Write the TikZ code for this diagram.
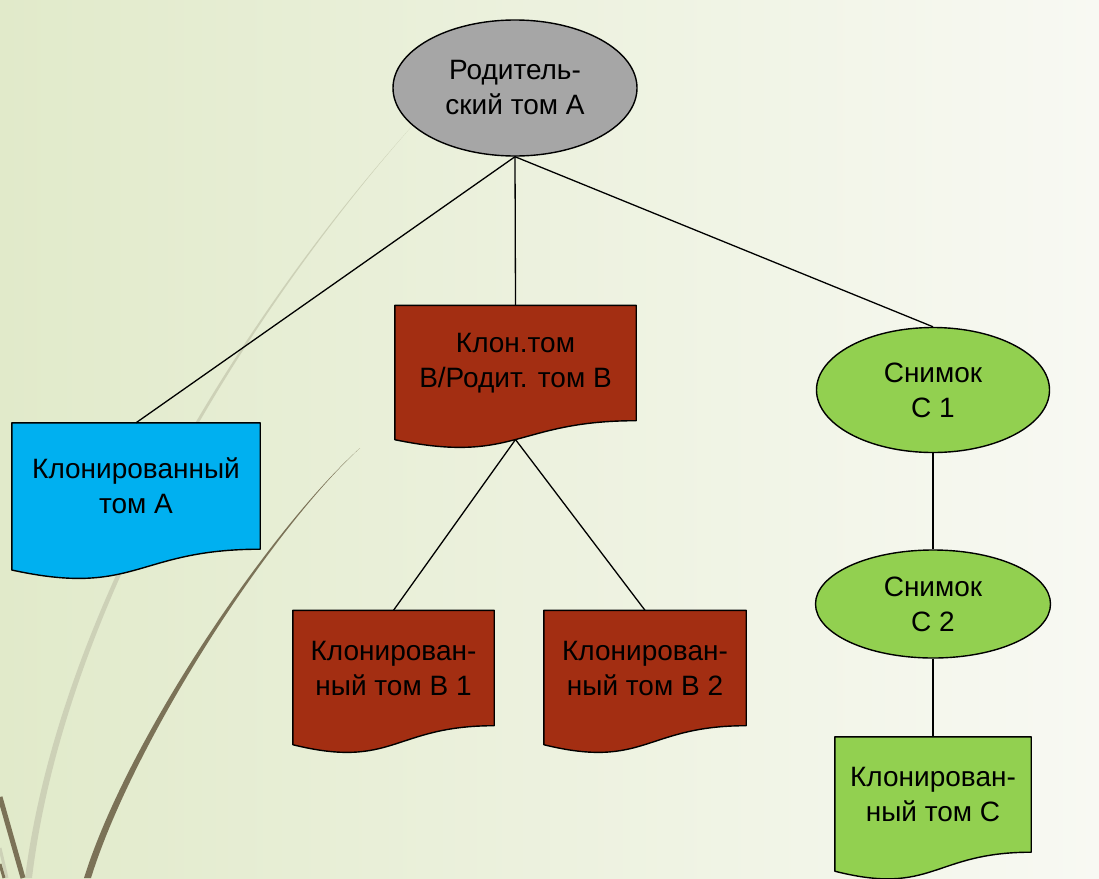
\documentclass[tikz,border=0pt]{standalone}
\usepackage{fontspec}
\setmainfont{Liberation Sans}
\usetikzlibrary{positioning,shapes.geometric,backgrounds,calc}

\definecolor{volgray}{HTML}{A6A6A6}
\definecolor{clonecyan}{HTML}{00B0F0}
\definecolor{clonerust}{HTML}{A32E12}
\definecolor{snapgreen}{HTML}{92D050}
\definecolor{bgleft}{HTML}{E1EACA}
\definecolor{bgmid}{HTML}{ECF0DF}
\definecolor{bgright}{HTML}{F8F9F3}
\definecolor{wisplight}{HTML}{CDD1B7}
\definecolor{wispdark}{HTML}{7B7257}

\tikzset{
  vol/.style={ellipse,draw,line width=1.4pt,inner sep=0pt,align=center},
  doc/.style={rectangle,inner sep=0pt,align=center},
  docline/.style={draw=black,line width=1.4pt,line join=round}
}

% document shape with a wavy bottom, drawn from the anchors of a node
\newcommand\docshape[2]{%
  \filldraw[fill=#2,docline]
    let \p1=(#1.north), \p2=(#1.south), \n1={\y1-\y2} in
    (#1.north west) -- (#1.north east) -- (#1.south east)
    .. controls (#1.south) and ($(#1.south)+(0,-0.381*\n1)$)
    .. ($(#1.south west)+(0,-0.1646*\n1)$) -- cycle;
  \path let \p1=(#1.north), \p2=(#1.south), \n1={\y1-\y2} in
    ($(#1.south)+(0,-0.1634*\n1)$) coordinate (#1-tip);
}

\begin{document}
\begin{tikzpicture}[x=1pt,y=-1pt,on grid,
  every node/.style={font=\fontsize{28}{35}\selectfont}]
\useasboundingbox (0,0) rectangle (1099,878);

\node[vol,fill=volgray,minimum width=244pt,minimum height=136pt] (P) at (515,88) {Родитель-\\ский том А};
\node[doc,minimum width=248pt,minimum height=126pt] (A) at (136,486) {Клонированный\\том А};
\node[doc,minimum width=241pt,minimum height=115pt] (CB) at (515.5,363) {Клон.том\\В/Родит. том В};
\node[doc,minimum width=201pt,minimum height=115pt] (B1) at (393.5,668) {Клонирован-\\ный том В 1};
\node[doc,minimum width=202pt,minimum height=115pt] (B2) [right=251.5pt of B1] {Клонирован-\\ный том В 2};
\node[vol,fill=snapgreen,minimum width=233pt,minimum height=125pt] (C1) at (933,390) {Снимок\\С 1};
\node[vol,fill=snapgreen,minimum width=235pt,minimum height=108pt] (C2) [below=214pt of C1] {Снимок\\С 2};
\node[doc,minimum width=196pt,minimum height=115pt] (CC) [below=190.5pt of C2] {Клонирован-\\ный том С};

\begin{scope}[on background layer]
% slide background
\shade[left color=bgleft,middle color=bgmid,right color=bgright] (0,0) rectangle (1099,878);
\fill[wisplight] (413,125) .. controls (229,330) and (58,620) .. (25,878)
  -- (32,878) .. controls (63,620) and (232,330) .. (413,125);
\fill[wispdark] (360,448) .. controls (269,530) and (127,740) .. (84,878)
  -- (91,878) .. controls (134,740) and (271,530) .. (360,448);
\draw[wispdark,line width=5pt] (0,797) -- (23,878);
\draw[wisplight,line width=3pt] (0,848) -- (7,878);
\draw[wispdark,line width=3pt] (0,864) -- (4,878);
% volumes
\foreach \vname/\vcol in {A/clonecyan,CB/clonerust,B1/clonerust,B2/clonerust,CC/snapgreen}
  \docshape{\vname}{\vcol};
\end{scope}

\path[line width=1.3pt]
(P.south) edge (A.north) edge (CB.north) edge (C1.north)
(CB-tip) edge (B1.north) edge (B2.north)
(C1) edge (C2)
(C2) edge (CC);
\end{tikzpicture}
\end{document}
